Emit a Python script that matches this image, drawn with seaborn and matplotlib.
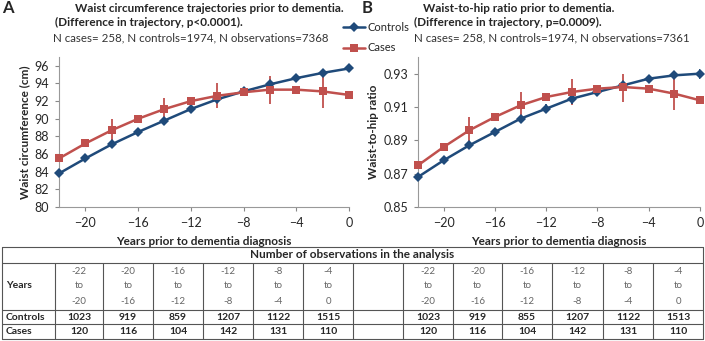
import numpy as np
import pandas as pd
import matplotlib
matplotlib.use('Agg')
import matplotlib.pyplot as plt
import seaborn as sns

# Trajectory estimates
years = [-22, -20, -18, -16, -14, -12, -10, -8, -6, -4, -2, 0]
nan = np.nan

waist_controls = [83.8, 85.5, 87.1, 88.5, 89.8, 91.1, 92.2, 93.1, 93.9, 94.6, 95.2, 95.7]
waist_cases = [85.5, 87.2, 88.7, 90.0, 91.1, 92.0, 92.6, 93.0, 93.3, 93.3, 93.1, 92.7]
waist_cases_lo = [84.2, nan, 87.4, nan, 89.8, nan, 91.2, nan, 91.7, nan, 91.2, nan]
waist_cases_hi = [86.8, nan, 90.0, nan, 92.4, nan, 94.0, nan, 94.8, nan, 95.0, nan]
waist_controls_lo = [83.4, nan, nan, nan, nan, nan, 91.8, nan, nan, nan, nan, 95.3]
waist_controls_hi = [84.2, nan, nan, nan, nan, nan, 92.6, nan, nan, nan, nan, 96.2]

whr_controls = [0.868, 0.878, 0.887, 0.895, 0.903, 0.909, 0.915, 0.919, 0.923, 0.927, 0.929, 0.930]
whr_cases = [0.875, 0.886, 0.896, 0.904, 0.911, 0.916, 0.919, 0.921, 0.922, 0.921, 0.918, 0.914]
whr_cases_lo = [0.866, nan, 0.888, nan, 0.903, nan, 0.911, nan, 0.913, nan, 0.908, nan]
whr_cases_hi = [0.885, nan, 0.904, nan, 0.919, nan, 0.927, nan, 0.930, nan, 0.928, nan]
whr_controls_lo = [0.865, nan, nan, nan, nan, 0.907, 0.912, nan, nan, 0.925, nan, 0.927]
whr_controls_hi = [0.871, nan, nan, nan, nan, 0.912, 0.917, nan, nan, 0.929, nan, 0.933]

# Table of observation counts
bin_start = ['-22', '-20', '-16', '-12', '-8', '-4']
bin_end = ['-20', '-16', '-12', '-8', '-4', '0']
n_controls_waist = [1023, 919, 859, 1207, 1122, 1515]
n_cases_waist = [120, 116, 104, 142, 131, 110]
n_controls_whr = [1023, 919, 855, 1207, 1122, 1513]
n_cases_whr = [120, 116, 104, 142, 131, 110]

BLUE = '#1f4a7a'
RED = '#c0504d'
palette = {'Controls': BLUE, 'Cases': RED}

sns.set_style('white')
plt.rcParams['font.family'] = ['Lato', 'DejaVu Sans']
plt.rcParams['font.size'] = 8

W, H = 705, 341
fig = plt.figure(figsize=(W / 100, H / 100), dpi=100)


def px_axes(x0, y0, x1, y1):
    # pixel box (top-left origin) -> figure axes
    return fig.add_axes([x0 / W, 1 - y1 / H, (x1 - x0) / W, (y1 - y0) / H])


def draw_panel(ax, controls, cases, c_lo, c_hi, k_lo, k_hi, ylim, yticks, fmt, ylabel):
    df = pd.DataFrame({
        'year': years * 2,
        'value': controls + cases,
        'group': ['Controls'] * len(years) + ['Cases'] * len(years),
    })
    ax.vlines(years, k_lo, k_hi, color=RED, lw=1.3, zorder=1)
    ax.vlines(years, c_lo, c_hi, color=BLUE, lw=1.3, zorder=1)
    sns.lineplot(data=df, x='year', y='value', hue='group', style='group',
                 palette=palette, markers={'Controls': 'D', 'Cases': 's'},
                 dashes=False, markersize=5.5, markeredgewidth=0, lw=1.8,
                 ax=ax, clip_on=False, zorder=3)
    ax.set_xlim(-22, 0)
    ax.set_ylim(*ylim)
    ax.set_xticks([-20, -16, -12, -8, -4, 0])
    ax.set_yticks(yticks)
    ax.set_yticklabels([fmt.format(v) for v in yticks])
    ax.tick_params(axis='both', labelsize=9, length=3, color='#888888', direction='out',
                   bottom=True, left=True, pad=4)
    for s in ['top', 'right']:
        ax.spines[s].set_visible(False)
    for s in ['left', 'bottom']:
        ax.spines[s].set_color('#999999')
        ax.spines[s].set_linewidth(0.8)
    ax.set_xlabel('Years prior to dementia diagnosis', fontweight='bold', fontsize=8.5, labelpad=5)
    ax.set_ylabel(ylabel, fontweight='bold', fontsize=8.5, labelpad=3)
    handles, labels = ax.get_legend_handles_labels()
    ax.get_legend().remove()
    return handles, labels


axA = px_axes(59, 57, 349, 207)
handles, labels = draw_panel(axA, waist_controls, waist_cases, waist_controls_lo, waist_controls_hi,
                             waist_cases_lo, waist_cases_hi, (80, 97), list(range(80, 97, 2)),
                             '{:d}', 'Waist circumference (cm)')
axB = px_axes(418, 57, 700, 207)
draw_panel(axB, whr_controls, whr_cases, whr_controls_lo, whr_controls_hi,
           whr_cases_lo, whr_cases_hi, (0.85, 0.94), [0.85, 0.87, 0.89, 0.91, 0.93],
           '{:.2f}', 'Waist-to-hip ratio')

fig.legend(handles, labels, loc='upper left', bbox_to_anchor=(333 / W, 1 - 12 / H),
           frameon=False, fontsize=8, handlelength=2.0, handletextpad=0.2, labelspacing=0.85)

# Titles
def ftext(x, y, s, **kw):
    fig.text(x / W, 1 - y / H, s, va='top', ha='left', **kw)

ftext(2, 0, 'A', fontsize=12, fontweight='bold')
ftext(75, 3, 'Waist circumference trajectories prior to dementia.', fontsize=8.5, fontweight='bold')
ftext(55, 17, '(Difference in trajectory, p<0.0001).', fontsize=8.5, fontweight='bold')
ftext(53, 32, 'N cases= 258, N controls=1974, N observations=7368', fontsize=8.3, color='#333333')

ftext(362, 0, 'B', fontsize=12, fontweight='bold')
ftext(423, 3, 'Waist-to-hip ratio prior to dementia.', fontsize=8.5, fontweight='bold')
ftext(414, 17, '(Difference in trajectory, p=0.0009).', fontsize=8.5, fontweight='bold')
ftext(414, 32, 'N cases= 258, N controls=1974, N observations=7361', fontsize=8.3, color='#333333')

# Table
tab = fig.add_axes([0, 0, 1, 1], zorder=-1)
tab.set_xlim(0, W)
tab.set_ylim(H, 0)
tab.axis('off')

rows_y = [247, 263, 310, 324, 339]
col_x = [2, 55, 103, 153, 203, 253, 303, 353, 403, 453, 502, 552, 603, 653, 703]
lc = '#555555'
for y in rows_y:
    tab.plot([col_x[0], col_x[-1]], [y, y], color=lc, lw=0.8)
for x in col_x:
    y_top = rows_y[0] if x in (col_x[0], col_x[-1]) else rows_y[1]
    tab.plot([x, x], [y_top, rows_y[-1]], color=lc, lw=0.8)

tab.text(352, 255, 'Number of observations in the analysis', ha='center', va='center',
         fontsize=8.5, fontweight='bold')
tab.text(6, 286, 'Years', ha='left', va='center', fontsize=7.5, fontweight='bold')
tab.text(6, 317, 'Controls', ha='left', va='center', fontsize=7.5, fontweight='bold')
tab.text(6, 331.5, 'Cases', ha='left', va='center', fontsize=7.5, fontweight='bold')

gray = '#666666'
for block, (nc, nk) in enumerate([(n_controls_waist, n_cases_waist), (n_controls_whr, n_cases_whr)]):
    first = 1 + block * 7
    for i in range(6):
        cx = (col_x[first + i] + col_x[first + i + 1]) / 2
        tab.text(cx, 272, bin_start[i], ha='center', va='center', fontsize=7, color=gray)
        tab.text(cx, 286, 'to', ha='center', va='center', fontsize=7, color=gray)
        tab.text(cx, 301, bin_end[i], ha='center', va='center', fontsize=7, color=gray)
        tab.text(cx, 317, str(nc[i]), ha='center', va='center', fontsize=7.5, fontweight='bold')
        tab.text(cx, 331.5, str(nk[i]), ha='center', va='center', fontsize=7.5, fontweight='bold')

fig.savefig('out.png', dpi=100)
